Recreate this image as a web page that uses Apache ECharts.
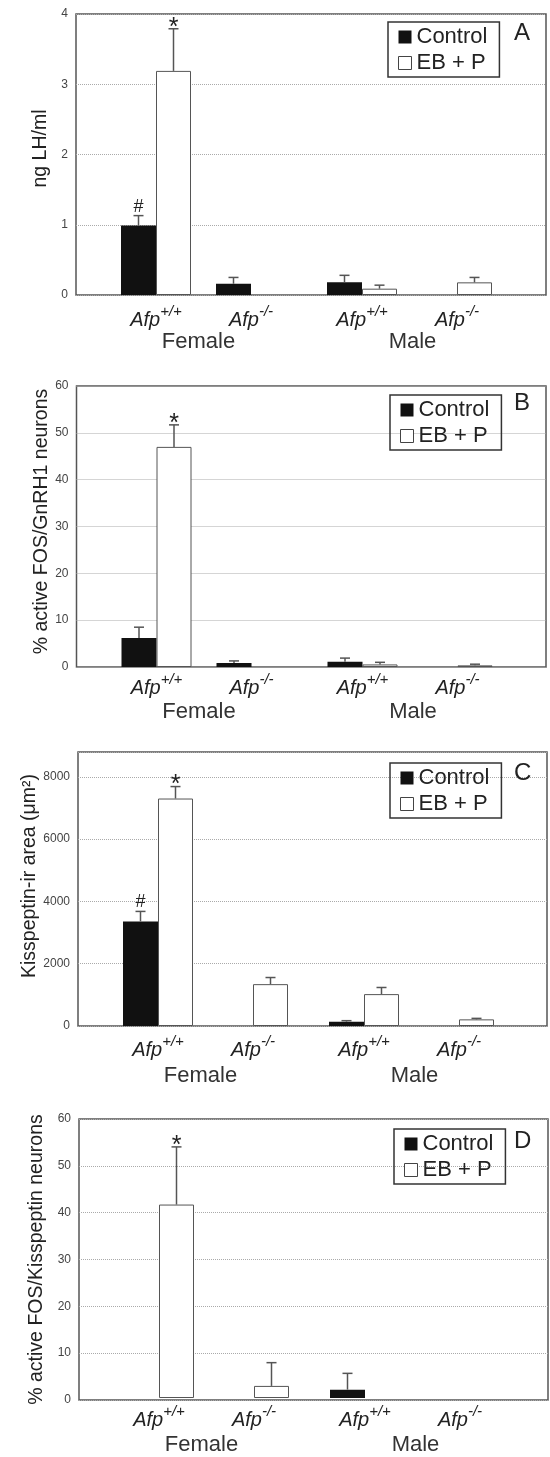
<!DOCTYPE html>
<html>
<head>
<meta charset="utf-8">
<script src="https://cdn.jsdelivr.net/npm/echarts@6/dist/echarts.min.js"></script>
<style>
  html, body { margin: 0; padding: 0; background: #fff; }
  #chart { width: 550px; height: 1457px; }
</style>
</head>
<body>
<div id="chart"></div>
<script>
// categories
const genotypes = ['+/+', '-/-'];
const sexes = ['Female', 'Male'];
const seriesNames = ['Control', 'EB + P'];

// values are ordered: Female Afp+/+, Female Afp-/-, Male Afp+/+, Male Afp-/-
// A: serum LH
const lhControl = [0.99, 0.16, 0.18, 0];
const lhControlSem = [0.14, 0.09, 0.10, 0];
const lhControlMarks = ['#', '', '', ''];
const lhEbp = [3.19, 0, 0.09, 0.18];
const lhEbpSem = [0.60, 0, 0.05, 0.07];
const lhEbpMarks = ['*', '', '', ''];

// B: % FOS in GnRH1 neurons
const gnrhControl = [6.2, 0.85, 1.1, 0];
const gnrhControlSem = [2.3, 0.45, 0.8, 0];
const gnrhControlMarks = ['', '', '', ''];
const gnrhEbp = [47.0, 0, 0.55, 0.35];
const gnrhEbpSem = [4.7, 0, 0.45, 0.25];
const gnrhEbpMarks = ['*', '', '', ''];

// C: kisspeptin-ir area
const kissAreaControl = [3360, 0, 139, 0];
const kissAreaControlSem = [320, 0, 32, 0];
const kissAreaControlMarks = ['#', '', '', ''];
const kissAreaEbp = [7306, 1344, 1024, 213];
const kissAreaEbpSem = [384, 213, 213, 32];
const kissAreaEbpMarks = ['*', '', '', ''];

// D: % FOS in kisspeptin neurons
const kissFosControl = [0, 0, 1.8, 0];
const kissFosControlSem = [0, 0, 3.5, 0];
const kissFosControlMarks = ['', '', '', ''];
const kissFosEbp = [41.6, 2.6, 0, 0];
const kissFosEbpSem = [12.4, 5.0, 0, 0];
const kissFosEbpMarks = ['*', '', '', ''];

const FONT = '"Liberation Sans", Arial, Helvetica, sans-serif';

const panels = [
  { letter: 'A', yName: 'ng LH/ml', yMax: 4, yInterval: 1,
    top: 14, bottom: 295, left: 76, right: 546, nameGap: 25, nameShift: 12, sexGap: 36, labelMargin: 9,
    legendTop: 22, legendLeft: 388, letterTop: 21,
    control: lhControl, controlSem: lhControlSem, controlMarks: lhControlMarks,
    ebp: lhEbp, ebpSem: lhEbpSem, ebpMarks: lhEbpMarks },
  { letter: 'B', yName: '% active FOS/GnRH1 neurons', yMax: 60, yInterval: 10,
    top: 386, bottom: 667, left: 76.5, right: 546, nameGap: 25, nameShift: 10, sexGap: 34, labelMargin: 5,
    legendTop: 395, legendLeft: 390, letterTop: 391,
    control: gnrhControl, controlSem: gnrhControlSem, controlMarks: gnrhControlMarks,
    ebp: gnrhEbp, ebpSem: gnrhEbpSem, ebpMarks: gnrhEbpMarks },
  { letter: 'C', yName: 'Kisspeptin-ir area (μm²)', yMax: 8800, yInterval: 2000,
    top: 752, bottom: 1026, left: 78, right: 547, nameGap: 38, nameShift: 26, sexGap: 39, labelMargin: 8,
    legendTop: 763, legendLeft: 390, letterTop: 761,
    control: kissAreaControl, controlSem: kissAreaControlSem, controlMarks: kissAreaControlMarks,
    ebp: kissAreaEbp, ebpSem: kissAreaEbpSem, ebpMarks: kissAreaEbpMarks },
  { letter: 'D', yName: '% active FOS/Kisspeptin neurons', yMax: 60, yInterval: 10,
    top: 1119, bottom: 1400, left: 79, right: 548, nameGap: 32, nameShift: 0, sexGap: 36, labelMargin: 6,
    legendTop: 1129, legendLeft: 394, letterTop: 1129,
    control: kissFosControl, controlSem: kissFosControlSem, controlMarks: kissFosControlMarks,
    ebp: kissFosEbp, ebpSem: kissFosEbpSem, ebpMarks: kissFosEbpMarks }
];

const BAR_W = 35;
const grid = [], xAxis = [], yAxis = [], series = [], legend = [], title = [];

// empty groups carry no bar at all (avoids a stray outline on the axis)
const asBars = (vals) => vals.map((v) => (v === 0 ? '-' : v));

function errorSeries(xi, values, sems, marks, offset) {
  return {
    type: 'custom',
    xAxisIndex: xi, yAxisIndex: xi,
    silent: true,
    data: values.map((v, i) => [i, v, sems[i]]),
    renderItem: function (params, api) {
      const v = api.value(1), sem = api.value(2);
      const mark = marks[params.dataIndex];
      if (!(sem > 0)) return null;
      const base = api.coord([api.value(0), v]);
      const tip = api.coord([api.value(0), v + sem]);
      const x = base[0] + offset;
      const children = [
        { type: 'line', shape: { x1: x, y1: base[1], x2: x, y2: tip[1] },
          style: { stroke: '#555', lineWidth: 1.5 } },
        { type: 'line', shape: { x1: x - 5, y1: tip[1], x2: x + 5, y2: tip[1] },
          style: { stroke: '#555', lineWidth: 1.5 } }
      ];
      if (mark) {
        children.push({
          type: 'text',
          style: {
            text: mark, x: x, y: tip[1] - (mark === '*' ? 1 : 9),
            align: 'center', verticalAlign: 'middle',
            fontSize: mark === '*' ? 25 : 18, fontFamily: FONT, fill: '#222'
          }
        });
      }
      return { type: 'group', children: children };
    },
    z: 3
  };
}

panels.forEach((p) => {
  const h = p.bottom - p.top;
  const g0 = grid.length;
  // frame with y scale and gridlines
  grid.push({ left: p.left, top: p.top, width: p.right - p.left, height: h,
    show: true, borderColor: '#555', borderWidth: 1.5, backgroundColor: 'transparent' });
  xAxis.push({ gridIndex: g0, type: 'value', show: false });
  yAxis.push({
    gridIndex: g0, type: 'value', min: 0, max: p.yMax, interval: p.yInterval,
    name: p.yName, nameLocation: 'middle', nameGap: p.nameGap, nameMoveOverlap: false,
    nameTextStyle: { fontSize: 19.5, color: '#222', fontFamily: FONT, padding: [0, 0, 0, p.nameShift] },
    axisLine: { show: false }, axisTick: { show: false },
    axisLabel: { fontSize: 12, color: '#444', margin: 8, fontFamily: FONT,
      formatter: (v) => (v % p.yInterval === 0 ? String(v) : '') },
    splitLine: { show: true, lineStyle: { type: 'dotted', color: '#aaa', width: 1 } }
  });

  // Female and Male groups, each its own grid
  sexes.forEach((sex, j) => {
    const gi = grid.length;
    grid.push({ left: p.left + (j === 0 ? 32.5 : 238.5), top: p.top, width: 190, height: h });
    xAxis.push({
      gridIndex: gi, type: 'category', data: genotypes,
      axisLine: { show: false }, axisTick: { show: false },
      axisLabel: {
        interval: 0, margin: p.labelMargin,
        formatter: (v) => '{a|Afp}{s|' + v + '}',
        rich: {
          a: { fontSize: 20, fontStyle: 'italic', color: '#222', fontFamily: FONT, padding: [6, 0, 0, 0] },
          s: { fontSize: 15, fontStyle: 'italic', color: '#222', fontFamily: FONT, verticalAlign: 'top' }
        }
      },
      name: sex, nameLocation: 'middle', nameGap: p.sexGap, nameMoveOverlap: false,
      nameTextStyle: { fontSize: 22, color: '#333', fontFamily: FONT,
        padding: j === 0 ? [0, 10, 0, 0] : [0, 0, 0, 6] }
    });
    yAxis.push({ gridIndex: gi, type: 'value', min: 0, max: p.yMax, show: false });

    const s0 = j * 2, s1 = j * 2 + 2;
    series.push({
      type: 'bar', name: seriesNames[0], xAxisIndex: gi, yAxisIndex: gi,
      data: asBars(p.control.slice(s0, s1)), barWidth: BAR_W, barGap: '0%',
      itemStyle: { color: '#111' }, silent: true
    });
    series.push({
      type: 'bar', name: seriesNames[1], xAxisIndex: gi, yAxisIndex: gi,
      data: asBars(p.ebp.slice(s0, s1)), barWidth: BAR_W, barGap: '0%',
      itemStyle: { color: '#fff', borderColor: '#555', borderWidth: 1 }, silent: true
    });
    series.push(errorSeries(gi, p.control.slice(s0, s1), p.controlSem.slice(s0, s1),
      p.controlMarks.slice(s0, s1), -BAR_W / 2));
    series.push(errorSeries(gi, p.ebp.slice(s0, s1), p.ebpSem.slice(s0, s1),
      p.ebpMarks.slice(s0, s1), BAR_W / 2));
  });

  legend.push({
    left: p.legendLeft, top: p.legendTop, orient: 'vertical',
    data: [
      { name: seriesNames[0], itemStyle: { color: '#111', borderWidth: 0 } },
      { name: seriesNames[1], itemStyle: { color: '#fff', borderColor: '#444', borderWidth: 1 } }
    ],
    icon: 'rect', itemWidth: 13, itemHeight: 13, itemGap: 4,
    padding: [4, 12, 3, 10],
    borderColor: '#333', borderWidth: 1.5,
    selectedMode: false,
    textStyle: { fontSize: 22, color: '#222', fontFamily: FONT }
  });

  title.push({
    text: p.letter, left: 514, top: p.letterTop, padding: 0,
    textStyle: { fontSize: 24, fontWeight: 'normal', color: '#222', fontFamily: FONT }
  });
});

const chart = echarts.init(document.getElementById('chart'));
chart.setOption({
  animation: false,
  backgroundColor: '#fff',
  title: title,
  legend: legend,
  grid: grid,
  xAxis: xAxis,
  yAxis: yAxis,
  series: series
});
</script>
</body>
</html>
